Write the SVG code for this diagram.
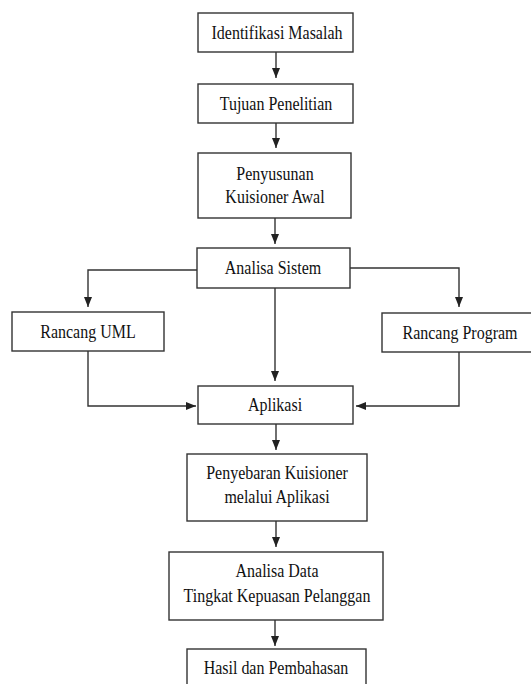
<svg xmlns="http://www.w3.org/2000/svg" width="531" height="684" viewBox="0 0 531 684">
<style>
.box{fill:#fff;stroke:#333;stroke-width:1.4}
.t{font-family:'Liberation Serif','Times New Roman',serif;font-size:16px;fill:#111;text-anchor:middle}
.c{fill:none;stroke:#333;stroke-width:1.4;marker-end:url(#ah)}
</style>
<defs>
<marker id="ah" markerUnits="userSpaceOnUse" markerWidth="10" markerHeight="8" refX="10" refY="4" orient="auto">
<path d="M0,0 L10,4 L0,8 z" fill="#222"/>
</marker>
</defs>
<rect width="531" height="684" fill="#fff"/>
<g id="connectors">
<path class="c" d="M276,52 V78"/>
<path class="c" d="M276,123 V148"/>
<path class="c" d="M275,218 V244"/>
<path class="c" d="M197,270 H88 V307"/>
<path class="c" d="M350,268 H459 V307"/>
<path class="c" d="M275,288 V381"/>
<path class="c" d="M88,351 V406 H196"/>
<path class="c" d="M459,352 V406 H356"/>
<path class="c" d="M276,424 V450"/>
<path class="c" d="M276,521 V547"/>
<path class="c" d="M275,620 V646"/>
</g>
<g id="n1"><rect class="box" x="198" y="13" width="155" height="39"/><text class="t" transform="translate(277,39) scale(1,1.18)">Identifikasi Masalah</text></g>
<g id="n2"><rect class="box" x="198" y="84" width="155" height="39"/><text class="t" transform="translate(276,110) scale(1,1.18)">Tujuan Penelitian</text></g>
<g id="n3"><rect class="box" x="198" y="153" width="153" height="65"/><text class="t" transform="translate(275,180) scale(1,1.18)">Penyusunan</text><text class="t" transform="translate(275,203) scale(1,1.18)">Kuisioner Awal</text></g>
<g id="n4"><rect class="box" x="197" y="248" width="153" height="40"/><text class="t" transform="translate(273,274) scale(1,1.18)">Analisa Sistem</text></g>
<g id="n5"><rect class="box" x="12" y="312" width="152" height="39"/><text class="t" transform="translate(88,338) scale(1,1.18)">Rancang UML</text></g>
<g id="n6"><rect class="box" x="382" y="313" width="155" height="39"/><text class="t" transform="translate(460,339) scale(1,1.18)">Rancang Program</text></g>
<g id="n7"><rect class="box" x="198" y="386" width="155" height="38"/><text class="t" transform="translate(275,411) scale(1,1.18)">Aplikasi</text></g>
<g id="n8"><rect class="box" x="187" y="454" width="180" height="67"/><text class="t" transform="translate(277,479) scale(1,1.18)">Penyebaran Kuisioner</text><text class="t" transform="translate(277,503) scale(1,1.18)">melalui Aplikasi</text></g>
<g id="n9"><rect class="box" x="169" y="552" width="214" height="68"/><text class="t" transform="translate(277,577) scale(1,1.18)">Analisa Data</text><text class="t" transform="translate(277,602) scale(1,1.18)">Tingkat Kepuasan Pelanggan</text></g>
<g id="n10"><rect class="box" x="187" y="649" width="179" height="50"/><text class="t" transform="translate(276,674) scale(1,1.18)">Hasil dan Pembahasan</text></g>
</svg>
